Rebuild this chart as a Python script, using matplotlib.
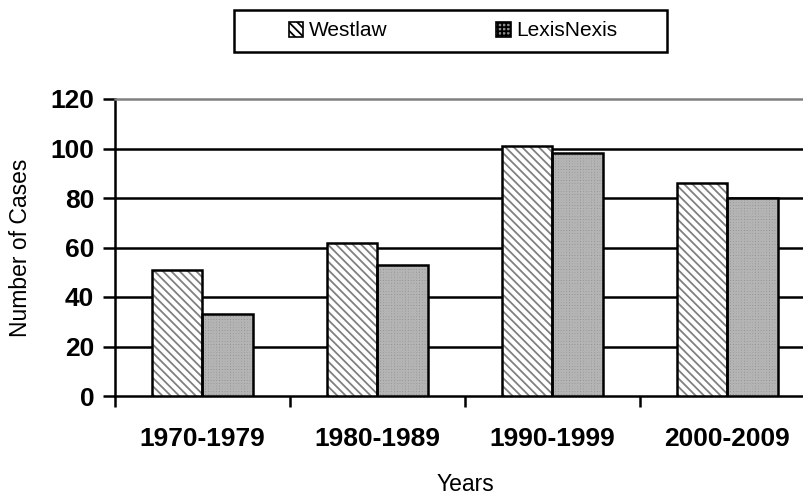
import matplotlib
matplotlib.use("Agg")
import matplotlib.pyplot as plt
import numpy as np
from matplotlib.patches import Rectangle, Patch

categories = ["1970-1979", "1980-1989", "1990-1999", "2000-2009"]
westlaw = [51, 62, 101, 86]
lexisnexis = [33, 53, 98, 80]
yticks = [0, 20, 40, 60, 80, 100, 120]

plt.rcParams['font.family'] = ['Liberation Sans', 'DejaVu Sans']
plt.rcParams['hatch.linewidth'] = 1.3

W, H = 804, 497
fig = plt.figure(figsize=(W/100, H/100), dpi=100)
ax = fig.add_axes([115/W, 1-396/H, 700/W, 297/H])

x = np.arange(len(categories))
bw = 0.286

# Westlaw: white with diagonal gray hatch
ax.bar(x - bw/2, westlaw, bw, color='white', edgecolor='#808080', hatch='\\\\\\\\', linewidth=0, zorder=3)
ax.bar(x - bw/2, westlaw, bw, fill=False, edgecolor='black', linewidth=1.8, zorder=4)
# LexisNexis: fine gray check
ax.bar(x + bw/2, lexisnexis, bw, color='#8e8e8e', edgecolor='#b4b4b4', hatch='++++++', linewidth=0, zorder=3)
ax.bar(x + bw/2, lexisnexis, bw, fill=False, edgecolor='black', linewidth=1.8, zorder=4)

ax.set_xlim(-0.5, len(categories) - 0.5)
ax.set_ylim(0, 120)
ax.set_yticks(yticks)
ax.set_yticklabels([str(v) for v in yticks], fontsize=19, fontweight='bold')
ax.set_xticks(x)
ax.set_xticklabels(categories, fontsize=19, fontweight='bold')
ax.set_xticks(np.arange(len(categories) + 1) - 0.5, minor=True)
ax.tick_params(axis='x', which='major', length=0, pad=22)
ax.tick_params(axis='x', which='minor', length=8, width=1.8, direction='out')
ax.tick_params(axis='y', length=9, width=1.8, direction='out', pad=6)

for v in yticks[1:-1]:
    ax.axhline(v, color='black', linewidth=1.8, zorder=1)

ax.spines['left'].set_linewidth(1.8)
ax.spines['bottom'].set_linewidth(1.8)
ax.spines['top'].set_color('#808080')
ax.spines['top'].set_linewidth(1.8)
ax.spines['right'].set_visible(False)

ax.set_ylabel("Number of Cases", fontsize=16.5, labelpad=13)
ax.set_xlabel("Years", fontsize=16.5, labelpad=16)

# legend frame
fig.patches.append(Rectangle((234/W, 1-52/H), 433/W, 42/H, transform=fig.transFigure,
                             fill=False, edgecolor='black', linewidth=1.8))
handles = [Patch(facecolor='white', edgecolor='black', hatch='\\\\\\\\', linewidth=1.2),
           Patch(facecolor='#8e8e8e', edgecolor='black', hatch='++++', linewidth=1.2)]
fig.legend(handles, ["Westlaw", "LexisNexis"], loc='center', bbox_to_anchor=(453/W, 1-31/H),
           ncol=2, frameon=False, fontsize=15, handlelength=0.7, handleheight=0.7,
           handletextpad=0.25, columnspacing=5.25)

fig.savefig("out.png", dpi=100)
